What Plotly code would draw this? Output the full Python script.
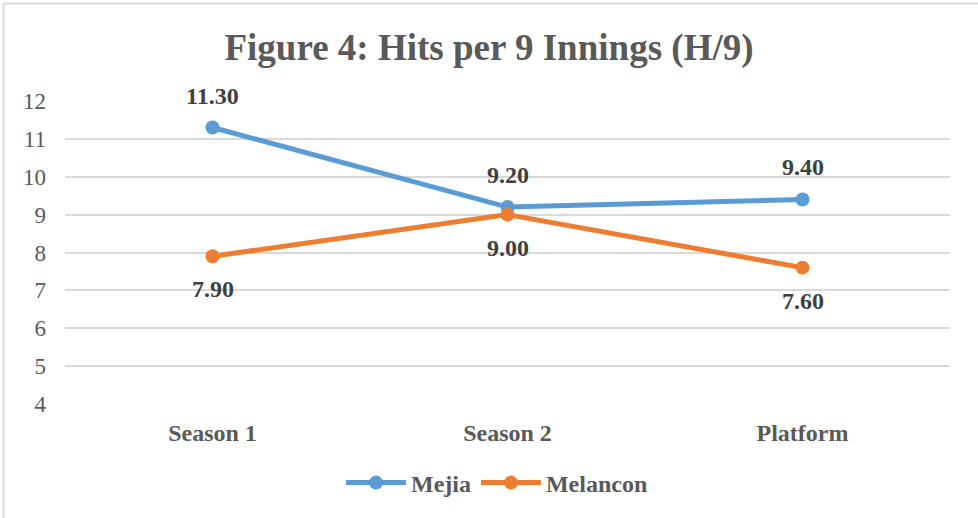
import plotly.graph_objects as go

categories = ["Season 1", "Season 2", "Platform"]
mejia = [11.3, 9.2, 9.4]
melancon = [7.9, 9.0, 7.6]
y_ticks = [4, 5, 6, 7, 8, 9, 10, 11, 12]

W, H = 978, 518
L, R, T, B = 65, 28, 101, 114
pw, ph = W - L - R, H - T - B

def px_x(x):
    return (x - L) / pw

def px_y(y):
    return (H - B - y) / ph

serif = "Liberation Serif, Times New Roman, serif"
gray = "#595959"
label_color = "#404040"

fig = go.Figure()
fig.add_trace(go.Scatter(
    x=categories, y=mejia, name="Mejia", mode="lines+markers",
    line=dict(color="#5B9BD5", width=5), marker=dict(size=14, color="#5B9BD5"),
))
fig.add_trace(go.Scatter(
    x=categories, y=melancon, name="Melancon", mode="lines+markers",
    line=dict(color="#ED7D31", width=5), marker=dict(size=14, color="#ED7D31"),
))

annotations = []
for series, shift in ((mejia, 32), (melancon, -33)):
    for c, v in zip(categories, series):
        annotations.append(dict(
            x=c, y=v, xref="x", yref="y", text=f"<b>{v:.2f}</b>", showarrow=False,
            yshift=shift, xanchor="center", yanchor="middle",
            font=dict(family=serif, size=24, color=label_color),
        ))

fig.update_layout(
    width=W, height=H,
    margin=dict(l=L, r=R, t=T, b=B, autoexpand=False),
    paper_bgcolor="white", plot_bgcolor="white",
    title=dict(text="<b>Figure 4: Hits per 9 Innings (H/9)</b>",
               font=dict(family=serif, size=37, color=gray),
               x=0.5, xanchor="center", y=1 - 47 / H, yanchor="middle"),
    xaxis=dict(type="category", range=[-0.5, 2.5], showgrid=False, zeroline=False,
               showline=False, ticks="", automargin=False, ticklabelstandoff=12,
               tickfont=dict(family=serif, size=24, color=gray, weight="bold")),
    yaxis=dict(range=[4, 12], tickvals=y_ticks, showgrid=True, gridcolor="#d9d9d9",
               gridwidth=1.5, zeroline=False, showline=False, ticks="", automargin=False,
               tickfont=dict(family=serif, size=23, color=gray), ticklabelstandoff=18),
    legend=dict(orientation="h", x=px_x(497), xanchor="center", y=px_y(483), yanchor="middle",
                font=dict(family=serif, size=24, color=gray, weight="bold"),
                itemwidth=60, traceorder="normal"),
    annotations=annotations,
    shapes=[dict(type="rect", xref="paper", yref="paper",
                 x0=px_x(3.5), x1=px_x(990), y0=px_y(530), y1=px_y(3.5),
                 line=dict(color="#d9d9d9", width=2), layer="below")],
)

fig.write_html("out.html", config={"displayModeBar": False},
               post_script="document.body.style.margin='0';document.body.style.overflow='hidden';")
